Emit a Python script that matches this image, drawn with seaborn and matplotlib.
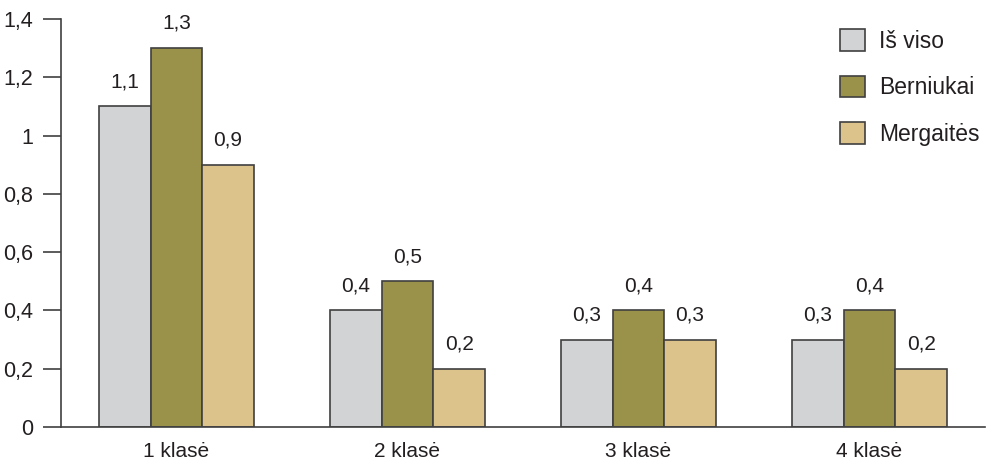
import pandas as pd
import matplotlib.pyplot as plt
import seaborn as sns
from matplotlib.patches import Patch

# data
classes = ['1 klasė', '2 klasė', '3 klasė', '4 klasė']
groups = ['Iš viso', 'Berniukai', 'Mergaitės']
is_viso = [1.1, 0.4, 0.3, 0.3]
berniukai = [1.3, 0.5, 0.4, 0.4]
mergaites = [0.9, 0.2, 0.3, 0.2]
y_ticks = [0, 0.2, 0.4, 0.6, 0.8, 1, 1.2, 1.4]

colors = ['#D1D3D4', '#9A924A', '#DBC38B']
edge = '#404040'
txt = '#231F20'

rows = []
for grp, vals in zip(groups, [is_viso, berniukai, mergaites]):
    for c, v in zip(classes, vals):
        rows.append({'klase': c, 'grupe': grp, 'value': v})
df = pd.DataFrame(rows)

sns.set_style('white')
plt.rcParams['font.family'] = ['Liberation Sans', 'DejaVu Sans']

fig = plt.figure(figsize=(9.89, 4.62), dpi=100)
ax = fig.add_axes([61 / 989, 35 / 462, (985 - 61) / 989, (427 - 19) / 462])

sns.barplot(data=df, x='klase', y='value', hue='grupe', hue_order=groups,
            palette=colors, saturation=1, width=0.67, gap=0,
            edgecolor=edge, linewidth=1.2, ax=ax, legend=False)

def fmt(v):
    s = str(int(v)) if v == int(v) else f'{v:.1f}'
    return s.replace('.', ',')

for cont in ax.containers:
    labels = [fmt(v) for v in cont.datavalues]
    ax.bar_label(cont, labels=labels, padding=11, fontsize=15, color=txt)

ax.set_xlim(-0.5, 3.5)
ax.set_ylim(0, 1.4)
ax.set_yticks(y_ticks)
ax.set_yticklabels([fmt(v) for v in y_ticks])
ax.set_xticks(range(len(classes)))
ax.set_xticklabels(classes)
ax.set_xticks([-0.5, 0.5, 1.5, 2.5, 3.5], minor=True)
ax.tick_params(axis='x', which='major', length=0, pad=11, labelsize=15, colors=txt)
ax.tick_params(axis='x', which='minor', length=13, width=1.2, color=edge, direction='out')
ax.tick_params(axis='y', length=13, width=1.2, color=edge, direction='out', pad=7,
               labelsize=15.5, labelcolor=txt, left=True)
ax.set_xlabel('')
ax.set_ylabel('')

for s in ['top', 'right']:
    ax.spines[s].set_visible(False)
for s in ['left', 'bottom']:
    ax.spines[s].set_color(edge)
    ax.spines[s].set_linewidth(1.2)

handles = [Patch(facecolor=c, edgecolor=edge, linewidth=1.2, label=g)
           for c, g in zip(colors, groups)]
fig.legend(handles=handles, loc='upper left', bbox_to_anchor=(840 / 989, 1 - 29 / 462),
           frameon=False, fontsize=16.5, handlelength=1.09, handleheight=1.09,
           labelspacing=1.0, handletextpad=0.6, borderpad=0, borderaxespad=0,
           labelcolor=txt)

fig.savefig('out.png', dpi=100)
